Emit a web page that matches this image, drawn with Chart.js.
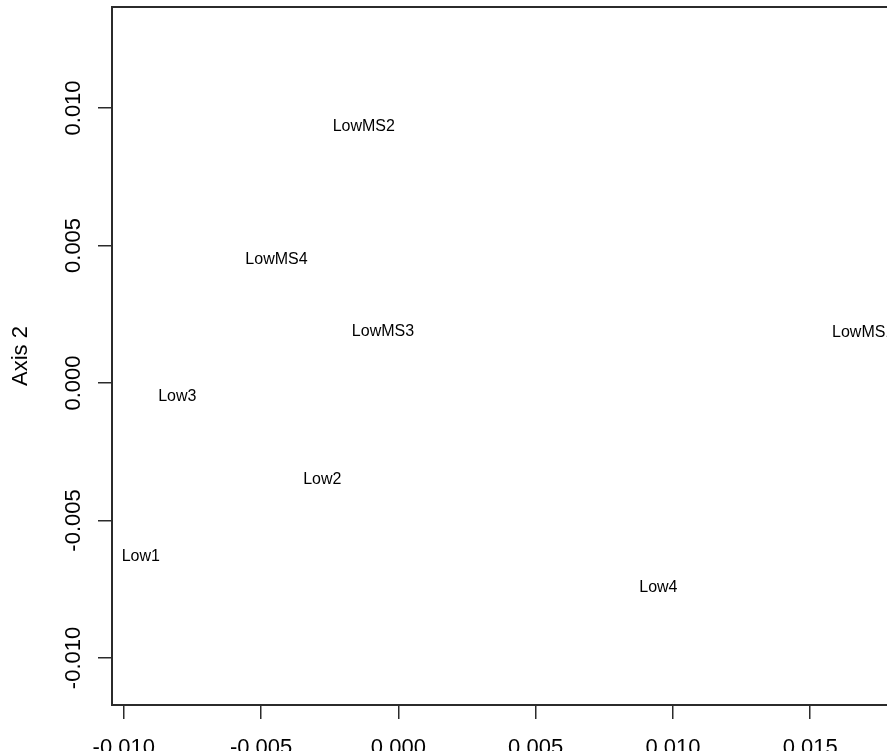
<!DOCTYPE html>
<html>
<head>
<meta charset="utf-8">
<title>Axis 2</title>
<script src="https://cdn.jsdelivr.net/npm/chart.js@4.4.1/dist/chart.umd.min.js"></script>
<style>
    html, body { margin: 0; padding: 0; overflow: hidden; background: #fff; }
    #caixa { position: absolute; left: 0; top: 0; width: 900px; height: 751px; }
</style>
</head>
<body>
<div id="caixa"><canvas id="grafico" width="900" height="751"></canvas></div>
<script>
// Dados
const rotulos = ['LowMS1', 'LowMS2', 'LowMS3', 'LowMS4', 'Low1', 'Low2', 'Low3', 'Low4'];
const eixo1 = [0.01693, -0.00126, -0.00056, -0.00444, -0.00938, -0.00277, -0.00805, 0.00947];
const eixo2 = [0.00182, 0.00932, 0.00187, 0.00447, -0.00632, -0.00353, -0.00051, -0.00745];

const ticksX = [-0.010, -0.005, 0.000, 0.005, 0.010, 0.015];
const ticksY = [-0.010, -0.005, 0.000, 0.005, 0.010];
const tituloY = 'Axis 2';

const fonte = '"Liberation Sans", Arial, Helvetica, sans-serif';
const ctx = document.getElementById('grafico').getContext('2d');

const pontos = eixo1.map((x, i) => ({ x: x, y: eixo2[i] }));

// Plugin que desenha a caixa, os textos dos eixos e os rótulos dos pontos
const textosPlugin = {
    id: 'textos',
    afterDatasetsDraw(chart) {
        const c = chart.ctx;
        const area = chart.chartArea;
        const sx = chart.scales.x;
        const sy = chart.scales.y;

        c.save();
        c.fillStyle = '#000';

        // rótulos dos pontos, centrados no ponto
        c.font = '16px ' + fonte;
        c.textAlign = 'center';
        c.textBaseline = 'middle';
        const meta = chart.getDatasetMeta(0);
        meta.data.forEach((el, i) => {
            c.fillText(rotulos[i], el.x, el.y);
        });

        // caixa
        c.strokeStyle = '#2b2b2b';
        c.lineWidth = 2;
        c.strokeRect(area.left, area.top, area.right - area.left, area.bottom - area.top);

        // ticks do eixo x
        c.font = '22px ' + fonte;
        c.textAlign = 'center';
        c.textBaseline = 'alphabetic';
        ticksX.forEach(v => {
            c.fillText(v.toFixed(3), sx.getPixelForValue(v), area.bottom + 49);
        });

        // ticks do eixo y (girados)
        ticksY.forEach(v => {
            c.save();
            c.translate(area.left - 32, sy.getPixelForValue(v));
            c.rotate(-Math.PI / 2);
            c.fillText(v.toFixed(3), 0, 0);
            c.restore();
        });

        // título do eixo y
        c.save();
        c.translate(27, (area.top + area.bottom) / 2);
        c.rotate(-Math.PI / 2);
        c.fillText(tituloY, 0, 0);
        c.restore();

        c.restore();
    }
};

new Chart(ctx, {
    type: 'scatter',
    data: {
        datasets: [{
            label: tituloY,
            data: pontos,
            pointRadius: 0,
            pointHoverRadius: 0,
            backgroundColor: '#000'
        }]
    },
    options: {
        responsive: false,
        animation: false,
        layout: { padding: { top: 7, right: 8, left: 0, bottom: 0 } },
        plugins: {
            legend: { display: false },
            tooltip: { enabled: false }
        },
        scales: {
            x: {
                type: 'linear',
                position: 'bottom',
                min: -0.01043,
                max: 0.01798,
                afterBuildTicks: s => { s.ticks = ticksX.map(v => ({ value: v })); },
                afterFit: s => { s.height = 46; },
                ticks: { display: false },
                border: { display: false },
                grid: { drawOnChartArea: false, drawTicks: true, tickLength: 14, color: '#2b2b2b', lineWidth: 1.5 }
            },
            y: {
                type: 'linear',
                position: 'left',
                min: -0.01171,
                max: 0.01367,
                afterBuildTicks: s => { s.ticks = ticksY.map(v => ({ value: v })); },
                afterFit: s => { s.width = 112; },
                ticks: { display: false },
                border: { display: false },
                grid: { drawOnChartArea: false, drawTicks: true, tickLength: 14, color: '#2b2b2b', lineWidth: 1.5 }
            }
        }
    },
    plugins: [textosPlugin]
});
</script>
</body>
</html>
